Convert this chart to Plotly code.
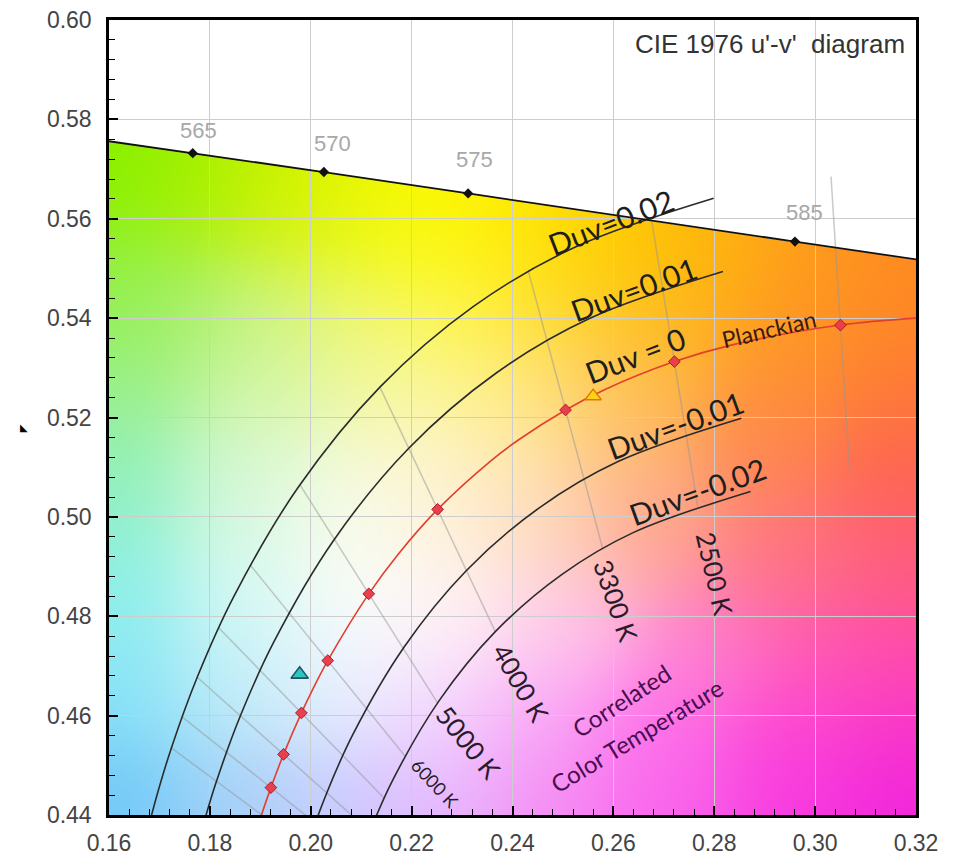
import base64
import struct
import zlib

import numpy as np
import plotly.graph_objects as go

# ---------------- data ----------------
X_TICKS = [0.16, 0.18, 0.20, 0.22, 0.24, 0.26, 0.28, 0.30, 0.32]
Y_TICKS = [0.44, 0.46, 0.48, 0.50, 0.52, 0.54, 0.56, 0.58, 0.60]

# spectral locus (wavelength nm, u', v')
LOCUS_NM = [560, 565, 570, 575, 580, 585, 590]
LOCUS_U = [0.1531, 0.1766, 0.2026, 0.2312, 0.2623, 0.2960, 0.3315]
LOCUS_V = [0.5766, 0.5732, 0.5694, 0.5651, 0.5604, 0.5554, 0.5501]
LOCUS_MARKED = [565, 570, 575, 585]
LOCUS_LABEL_U = [0.1778, 0.2043, 0.2325, 0.2979]
LOCUS_LABEL_V = [0.5777, 0.5752, 0.5719, 0.5613]

# Planckian locus (K, u', v')
PLANCK_T = [14000, 12000, 10000, 9000, 8000, 7000, 6500, 6000, 5000, 4500,
            4000, 3500, 3300, 3000, 2800, 2500, 2300, 2000, 1800]
PLANCK_U = [0.18624, 0.18778, 0.19025, 0.19210, 0.19461, 0.19815, 0.20049,
            0.20337, 0.21150, 0.21738, 0.22515, 0.23571, 0.24101, 0.25052,
            0.25814, 0.27210, 0.28354, 0.30502, 0.32310]
PLANCK_V = [0.42575, 0.43175, 0.44006, 0.44551, 0.45220, 0.46054, 0.46549,
            0.47107, 0.48451, 0.49255, 0.50151, 0.51129, 0.51537, 0.52152,
            0.52555, 0.53125, 0.53462, 0.53860, 0.54020]
PLANCK_MARKED_T = [9000, 8000, 7000, 6000, 5000, 4000, 3000, 2500, 2000]

# Duv = const curves
DUV_P02_U = [0.16758, 0.16934, 0.17237, 0.17749, 0.18476, 0.19755, 0.21371, 0.23227, 0.25236, 0.27989]
DUV_P02_V = [0.43654, 0.44339, 0.45350, 0.46772, 0.48400, 0.50600, 0.52612, 0.54236, 0.55427, 0.56412]
DUV_P01_U = [0.17691, 0.17856, 0.18131, 0.18605, 0.19263, 0.20452, 0.21943, 0.23664, 0.25525, 0.28172]
DUV_P01_V = [0.43115, 0.43757, 0.44678, 0.45996, 0.47474, 0.49526, 0.51382, 0.52886, 0.53991, 0.54937]
DUV_M01_U = [0.19557, 0.19699, 0.19919, 0.20317, 0.20836, 0.21848, 0.23087, 0.24538, 0.26103, 0.28537]
DUV_M01_V = [0.42036, 0.42593, 0.43334, 0.44444, 0.45623, 0.47377, 0.48921, 0.50188, 0.51119, 0.51987]
DUV_M02_U = [0.20490, 0.20621, 0.20813, 0.21173, 0.21623, 0.22546, 0.23659, 0.24975, 0.26392, 0.28719]
DUV_M02_V = [0.41496, 0.42011, 0.42662, 0.43669, 0.44697, 0.46302, 0.47690, 0.48839, 0.49683, 0.50513]

# isotherm (CCT) lines: end points
ISO_T = [10000, 9000, 8000, 7000, 6000, 5000, 4000, 3000, 2500, 2000]
ISO_U1 = [0.17237, 0.17449, 0.17749, 0.18174, 0.18802, 0.19787, 0.21371, 0.24315, 0.26747, 0.30315]
ISO_V1 = [0.45350, 0.45974, 0.46772, 0.47769, 0.49030, 0.50646, 0.52612, 0.54941, 0.56044, 0.56847]
ISO_U2 = [0.20813, 0.20971, 0.21173, 0.21456, 0.21872, 0.22514, 0.23659, 0.25788, 0.27673, 0.30689]
ISO_V2 = [0.42662, 0.43129, 0.43669, 0.44339, 0.45184, 0.46256, 0.47690, 0.49363, 0.50207, 0.50873]

# special points
D65_POINT = (0.1978, 0.4683)
A_POINT = (0.2560, 0.5243)

# background colour samples (u', v', colour)
BG_SAMPLES = [
    (0.161, 0.572, '#84f000'), (0.175, 0.567, '#a4f000'), (0.190, 0.564, '#c8f200'),
    (0.205, 0.561, '#e8f600'), (0.222, 0.557, '#fcfc00'), (0.238, 0.555, '#ffee00'),
    (0.252, 0.553, '#ffd800'), (0.266, 0.552, '#ffc200'), (0.282, 0.549, '#ffb010'),
    (0.300, 0.546, '#ff9a1c'), (0.318, 0.545, '#ff8a20'),
    (0.162, 0.545, '#8cf040'), (0.175, 0.540, '#a8f070'), (0.192, 0.540, '#d0f488'),
    (0.210, 0.540, '#f0f870'), (0.230, 0.540, '#fff860'), (0.250, 0.537, '#ffd850'),
    (0.270, 0.535, '#ffb830'), (0.295, 0.532, '#ff9030'), (0.318, 0.528, '#ff7a38'),
    (0.162, 0.525, '#98f098'), (0.190, 0.525, '#d8f8b8'), (0.215, 0.525, '#f8f8b4'),
    (0.240, 0.522, '#fff0a0'), (0.262, 0.520, '#ffc070'), (0.290, 0.515, '#ff8850'),
    (0.318, 0.510, '#ff6450'),
    (0.162, 0.505, '#8cf0c0'), (0.185, 0.505, '#d4f8d8'), (0.205, 0.502, '#f6fce8'),
    (0.225, 0.503, '#fff4d8'), (0.245, 0.500, '#ffdcbc'), (0.268, 0.498, '#ffa890'),
    (0.295, 0.492, '#ff7480'), (0.318, 0.490, '#ff5c80'),
    (0.162, 0.485, '#8cf0ec'), (0.187, 0.485, '#d8faf6'), (0.210, 0.484, '#fdfdfc'),
    (0.230, 0.480, '#fff2f6'), (0.252, 0.477, '#ffc4ea'), (0.278, 0.473, '#ff80d0'),
    (0.300, 0.470, '#ff58b8'), (0.318, 0.468, '#ff48b0'),
    (0.162, 0.465, '#88e4f8'), (0.185, 0.465, '#c0eef8'), (0.205, 0.465, '#eaf4ff'),
    (0.225, 0.460, '#f6dcff'), (0.245, 0.458, '#faaaf8'), (0.268, 0.455, '#ff70ec'),
    (0.295, 0.452, '#ff44d8'), (0.318, 0.452, '#f830d0'),
    (0.162, 0.443, '#70c8f8'), (0.185, 0.443, '#a4d0f8'), (0.205, 0.443, '#c8ccff'),
    (0.225, 0.443, '#e4b4ff'), (0.248, 0.443, '#f488f4'), (0.272, 0.443, '#f860ec'),
    (0.298, 0.443, '#f438e4'), (0.318, 0.442, '#ee20e0'),
]

U_RANGE = (0.16, 0.32)
V_RANGE = (0.44, 0.60)


# ---------------- background picture ----------------
def hex_rgb(h):
    h = h.lstrip('#')
    return [int(h[i:i + 2], 16) for i in (0, 2, 4)]


def png_bytes(arr):
    h, w, _ = arr.shape
    raw = b''.join(b'\x00' + arr[i].tobytes() for i in range(h))

    def chunk(tag, data):
        c = struct.pack('>I', len(data)) + tag + data
        return c + struct.pack('>I', zlib.crc32(tag + data) & 0xffffffff)

    return (b'\x89PNG\r\n\x1a\n'
            + chunk(b'IHDR', struct.pack('>IIBBBBB', w, h, 8, 2, 0, 0, 0))
            + chunk(b'IDAT', zlib.compress(raw, 9))
            + chunk(b'IEND', b''))


def background_uri(nw=808, nh=797, sigma=0.011):
    us = np.linspace(U_RANGE[0], U_RANGE[1], nw)
    vs = np.linspace(V_RANGE[1], V_RANGE[0], nh)
    U, V = np.meshgrid(us, vs)
    acc = np.zeros(U.shape + (3,))
    wsum = np.zeros(U.shape)
    for su, sv, col in BG_SAMPLES:
        w = np.exp(-((U - su) ** 2 + (V - sv) ** 2) / (2 * sigma ** 2))
        acc += w[..., None] * np.array(hex_rgb(col), dtype=float)
        wsum += w
    rgb = acc / np.maximum(wsum, 1e-300)[..., None]
    edge = np.interp(us, LOCUS_U, LOCUS_V)[None, :]
    rgb[V > edge] = 255.0
    arr = np.clip(rgb, 0, 255).astype(np.uint8)
    return 'data:image/png;base64,' + base64.b64encode(png_bytes(arr)).decode()


fig = go.Figure()

# isotherm lines
for i in range(len(ISO_T)):
    fig.add_trace(go.Scatter(
        x=[ISO_U1[i], ISO_U2[i]], y=[ISO_V1[i], ISO_V2[i]], mode='lines',
        line=dict(color='rgba(150,150,150,0.5)', width=1.5),
        hoverinfo='skip', showlegend=False))

# Duv curves
for du, dv in [(DUV_P02_U, DUV_P02_V), (DUV_P01_U, DUV_P01_V),
               (DUV_M01_U, DUV_M01_V), (DUV_M02_U, DUV_M02_V)]:
    fig.add_trace(go.Scatter(
        x=du, y=dv, mode='lines', line=dict(color='#2b2b2b', width=1.6, shape='spline'),
        hoverinfo='skip', showlegend=False))

# spectral locus
fig.add_trace(go.Scatter(
    x=LOCUS_U, y=LOCUS_V, mode='lines', line=dict(color='#111111', width=1.8),
    hoverinfo='skip', showlegend=False))
mk = [LOCUS_NM.index(n) for n in LOCUS_MARKED]
fig.add_trace(go.Scatter(
    x=[LOCUS_U[i] for i in mk], y=[LOCUS_V[i] for i in mk], mode='markers',
    marker=dict(symbol='diamond', size=8, color='#111111'),
    hoverinfo='skip', showlegend=False))

# Planckian locus
fig.add_trace(go.Scatter(
    x=PLANCK_U, y=PLANCK_V, mode='lines',
    line=dict(color='#e0402c', width=1.6, shape='spline'),
    hoverinfo='skip', showlegend=False))
pk = [PLANCK_T.index(t) for t in PLANCK_MARKED_T]
fig.add_trace(go.Scatter(
    x=[PLANCK_U[i] for i in pk], y=[PLANCK_V[i] for i in pk], mode='markers',
    marker=dict(symbol='diamond', size=9, color='#e8404c', line=dict(color='#b01828', width=1)),
    hoverinfo='skip', showlegend=False))

# triangles
fig.add_trace(go.Scatter(
    x=[D65_POINT[0]], y=[D65_POINT[1]], mode='markers',
    marker=dict(symbol='triangle-up', size=15, color='#2ec4c4', line=dict(color='#1d5560', width=1.6)),
    hoverinfo='skip', showlegend=False))
fig.add_trace(go.Scatter(
    x=[A_POINT[0]], y=[A_POINT[1]], mode='markers',
    marker=dict(symbol='triangle-up', size=14, color='#ffd21a', line=dict(color='#e07800', width=1.5)),
    hoverinfo='skip', showlegend=False))

fig.add_layout_image(dict(
    source=background_uri(), xref='x', yref='y', x=U_RANGE[0], y=V_RANGE[1],
    sizex=U_RANGE[1] - U_RANGE[0], sizey=V_RANGE[1] - V_RANGE[0],
    sizing='stretch', xanchor='left', yanchor='top', layer='below'))

ann = []
# wavelength labels
for n, lu, lv in zip(LOCUS_MARKED, LOCUS_LABEL_U, LOCUS_LABEL_V):
    ann.append(dict(x=lu, y=lv, text=str(n), showarrow=False,
                    font=dict(family='Liberation Sans, Arial', size=22, color='#a8a8a8')))

LAT = 'Lato, Carlito, sans-serif'
labels = [
    ("Duv=0.02", 0.2594, 0.5594, -21, 30, '#1e1e1e'),
    ("Duv=0.01", 0.2640, 0.5459, -20, 30, '#1e1e1e'),
    ("Duv = 0", 0.2643, 0.5326, -21, 30, '#1e1e1e'),
    ("Planckian", 0.2908, 0.5379, -13, 23, '#3a1a10'),
    ("Duv=-0.01", 0.2723, 0.5185, -20, 30, '#1e1e1e'),
    ("Duv=-0.02", 0.2767, 0.5053, -20, 30, '#1e1e1e'),
    ("3300 K", 0.2605, 0.4830, 71, 26, '#2a1a2a'),
    ("2500 K", 0.2802, 0.4886, 77, 26, '#2a1a2a'),
    ("4000 K", 0.2416, 0.4665, 60, 26, '#2a1a2a'),
    ("5000 K", 0.2312, 0.4546, 51, 26, '#2a1a2a'),
    ("6000 K", 0.2246, 0.4465, 47, 18, '#2a1a2a'),
    ("Correlated", 0.2616, 0.4630, -33, 24, '#4a0e50'),
    ("Color Temperature", 0.2646, 0.4560, -31, 24, '#4a0e50'),
]
for t, lu, lv, ang, sz, col in labels:
    ann.append(dict(x=lu, y=lv, text=t, showarrow=False, textangle=ang,
                    xanchor='center', yanchor='middle',
                    font=dict(family=LAT, size=sz, color=col)))

ann.append(dict(x=0.3182, y=0.5952, text="CIE 1976 u'-v'\u00a0 diagram", showarrow=False,
                xanchor='right', yanchor='middle',
                font=dict(family='Liberation Sans, Arial', size=26, color='#333333')))
ann.append(dict(x=-0.1128, y=0.488, xref='paper', yref='paper', text='\u25e3', showarrow=False,
                font=dict(family='DejaVu Sans', size=10, color='#000000')))

axis_common = dict(
    showline=True, linecolor='black', linewidth=2.5, mirror=True,
    ticks='inside', ticklen=9, tickwidth=1.5, tickcolor='black',
    showgrid=True, gridcolor='#cdcdcd', gridwidth=1, zeroline=False,
    tickfont=dict(family='Liberation Sans, Arial', size=23, color='#444444'),
    automargin=False, ticklabeloverflow='allow',
)
# the page body adds an 8 px offset, so the figure is 8 px smaller than the window
fig.update_layout(
    width=950, height=851,
    margin=dict(l=101, r=42, t=12, b=44),
    paper_bgcolor='white', plot_bgcolor='white',
    showlegend=False,
    xaxis=dict(range=[U_RANGE[0] - 1e-7, U_RANGE[1] + 1e-7], tickvals=X_TICKS,
               ticktext=['%.2f' % v for v in X_TICKS], ticklabelstandoff=6,
               minor=dict(tickmode='linear', tick0=0.16, dtick=0.004, ticks='inside',
                          ticklen=6, tickwidth=1.2, tickcolor='black', showgrid=False),
               **axis_common),
    yaxis=dict(range=[V_RANGE[0] - 1e-7, V_RANGE[1] + 1e-7], tickvals=Y_TICKS,
               ticktext=['%.2f' % v for v in Y_TICKS], ticklabelstandoff=10,
               minor=dict(tickmode='linear', tick0=0.44, dtick=0.004, ticks='inside',
                          ticklen=6, tickwidth=1.2, tickcolor='black', showgrid=False),
               **axis_common),
    annotations=ann,
)

fig.write_html("out.html")
